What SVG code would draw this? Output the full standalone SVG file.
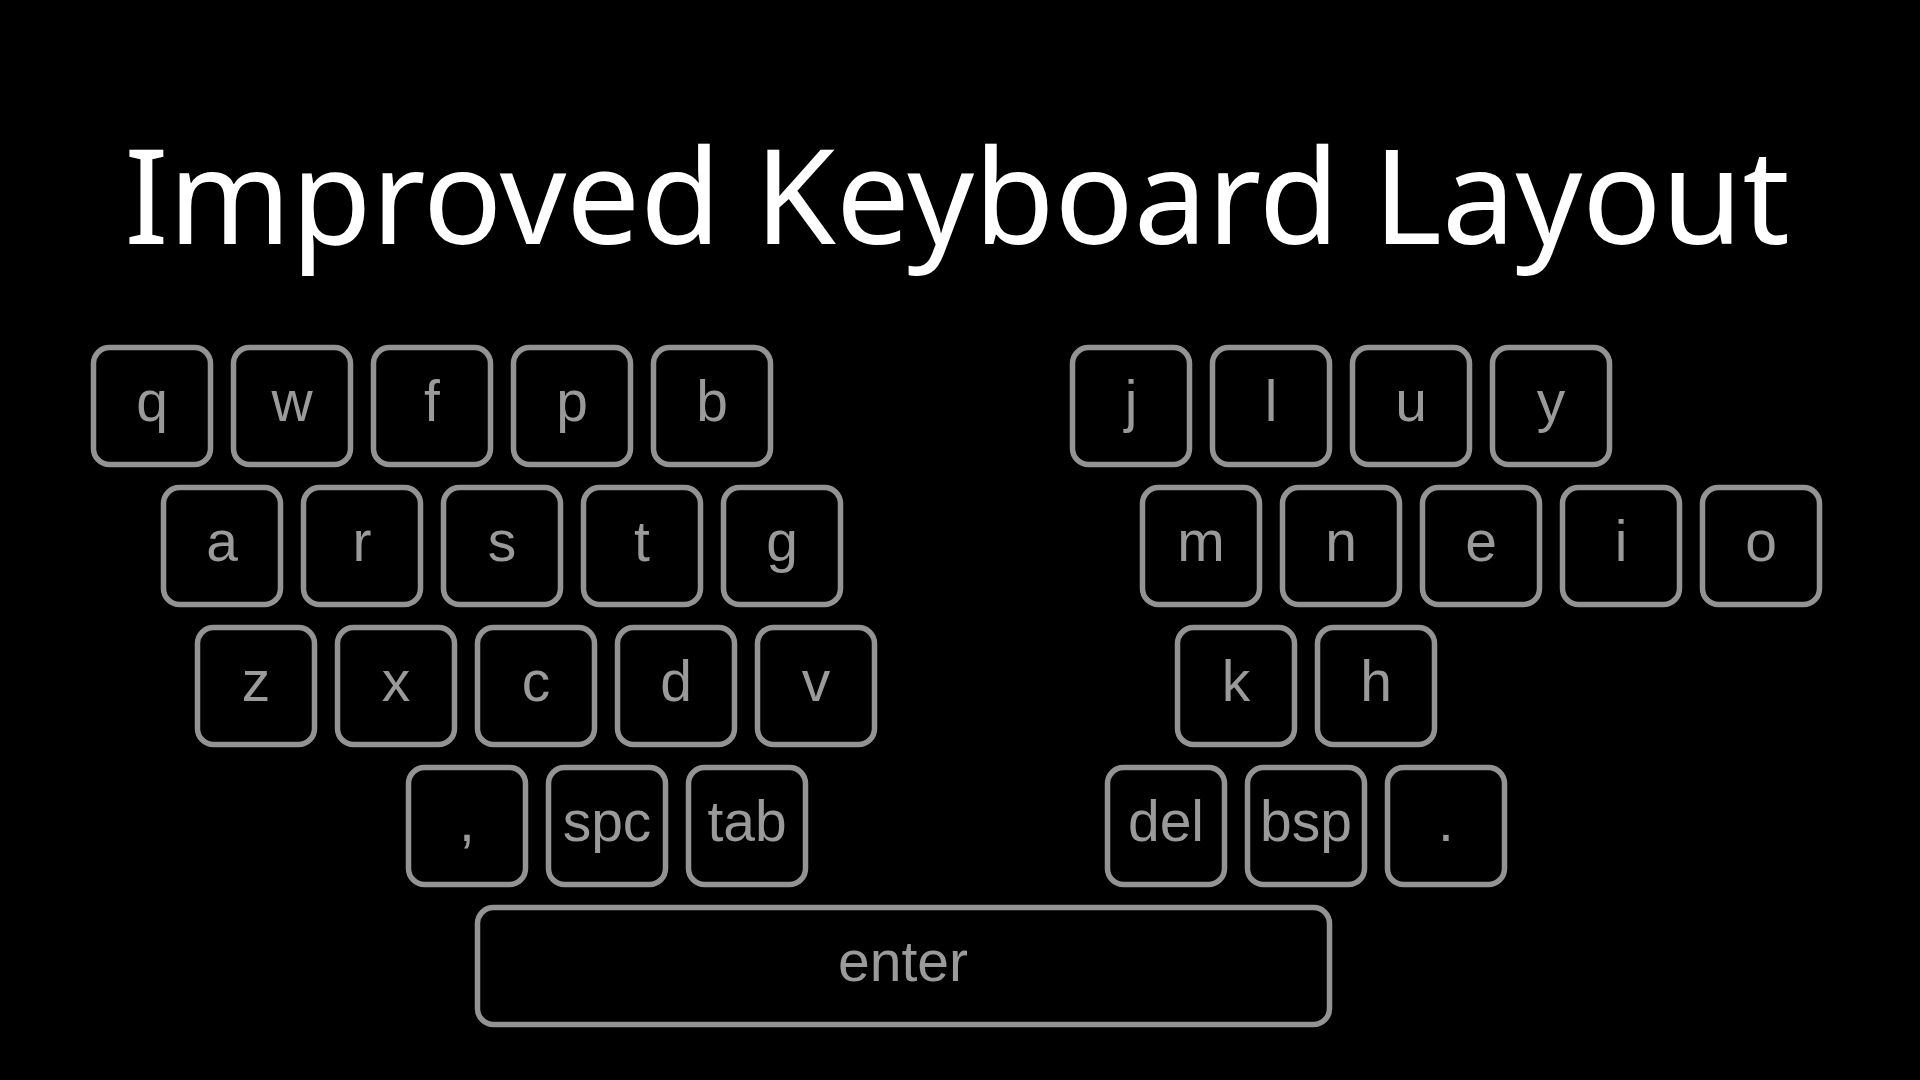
<svg xmlns="http://www.w3.org/2000/svg" width="1920" height="1080" viewBox="0 0 1920 1080">
<style>
.k rect{fill:#000;stroke:#939393;stroke-width:5.5}
.k text{fill:#9a9a9a;font-family:"Liberation Sans",Arial,sans-serif;font-size:57px;text-anchor:middle}
.t{fill:#fff;font-family:"Noto Sans","Open Sans",sans-serif;font-size:131px;text-anchor:middle}
</style>
<rect width="1920" height="1080" fill="#000"/>
<text class="t" x="957" y="244">Improved Keyboard Layout</text>
<g id="keys">
<g id="k-q" class="k"><rect x="93.5" y="347.5" width="117" height="117" rx="16"/><text x="152" y="421">q</text></g>
<g id="k-w" class="k"><rect x="233.5" y="347.5" width="117" height="117" rx="16"/><text x="292" y="421">w</text></g>
<g id="k-f" class="k"><rect x="373.5" y="347.5" width="117" height="117" rx="16"/><text x="432" y="421">f</text></g>
<g id="k-p" class="k"><rect x="513.5" y="347.5" width="117" height="117" rx="16"/><text x="572" y="421">p</text></g>
<g id="k-b" class="k"><rect x="653.5" y="347.5" width="117" height="117" rx="16"/><text x="712" y="421">b</text></g>
<g id="k-a" class="k"><rect x="163.5" y="487.5" width="117" height="117" rx="16"/><text x="222" y="561">a</text></g>
<g id="k-r" class="k"><rect x="303.5" y="487.5" width="117" height="117" rx="16"/><text x="362" y="561">r</text></g>
<g id="k-s" class="k"><rect x="443.5" y="487.5" width="117" height="117" rx="16"/><text x="502" y="561">s</text></g>
<g id="k-t" class="k"><rect x="583.5" y="487.5" width="117" height="117" rx="16"/><text x="642" y="561">t</text></g>
<g id="k-g" class="k"><rect x="723.5" y="487.5" width="117" height="117" rx="16"/><text x="782" y="561">g</text></g>
<g id="k-z" class="k"><rect x="197.5" y="627.5" width="117" height="117" rx="16"/><text x="256" y="701">z</text></g>
<g id="k-x" class="k"><rect x="337.5" y="627.5" width="117" height="117" rx="16"/><text x="396" y="701">x</text></g>
<g id="k-c" class="k"><rect x="477.5" y="627.5" width="117" height="117" rx="16"/><text x="536" y="701">c</text></g>
<g id="k-d" class="k"><rect x="617.5" y="627.5" width="117" height="117" rx="16"/><text x="676" y="701">d</text></g>
<g id="k-v" class="k"><rect x="757.5" y="627.5" width="117" height="117" rx="16"/><text x="816" y="701">v</text></g>
<g id="k-comma" class="k"><rect x="408.5" y="767.5" width="117" height="117" rx="16"/><text x="467" y="841">,</text></g>
<g id="k-spc" class="k"><rect x="548.5" y="767.5" width="117" height="117" rx="16"/><text x="607" y="841">spc</text></g>
<g id="k-tab" class="k"><rect x="688.5" y="767.5" width="117" height="117" rx="16"/><text x="747" y="841">tab</text></g>
<g id="k-j" class="k"><rect x="1072.5" y="347.5" width="117" height="117" rx="16"/><text x="1131" y="421">j</text></g>
<g id="k-l" class="k"><rect x="1212.5" y="347.5" width="117" height="117" rx="16"/><text x="1271" y="421">l</text></g>
<g id="k-u" class="k"><rect x="1352.5" y="347.5" width="117" height="117" rx="16"/><text x="1411" y="421">u</text></g>
<g id="k-y" class="k"><rect x="1492.5" y="347.5" width="117" height="117" rx="16"/><text x="1551" y="421">y</text></g>
<g id="k-m" class="k"><rect x="1142.5" y="487.5" width="117" height="117" rx="16"/><text x="1201" y="561">m</text></g>
<g id="k-n" class="k"><rect x="1282.5" y="487.5" width="117" height="117" rx="16"/><text x="1341" y="561">n</text></g>
<g id="k-e" class="k"><rect x="1422.5" y="487.5" width="117" height="117" rx="16"/><text x="1481" y="561">e</text></g>
<g id="k-i" class="k"><rect x="1562.5" y="487.5" width="117" height="117" rx="16"/><text x="1621" y="561">i</text></g>
<g id="k-o" class="k"><rect x="1702.5" y="487.5" width="117" height="117" rx="16"/><text x="1761" y="561">o</text></g>
<g id="k-k" class="k"><rect x="1177.5" y="627.5" width="117" height="117" rx="16"/><text x="1236" y="701">k</text></g>
<g id="k-h" class="k"><rect x="1317.5" y="627.5" width="117" height="117" rx="16"/><text x="1376" y="701">h</text></g>
<g id="k-del" class="k"><rect x="1107.5" y="767.5" width="117" height="117" rx="16"/><text x="1166" y="841">del</text></g>
<g id="k-bsp" class="k"><rect x="1247.5" y="767.5" width="117" height="117" rx="16"/><text x="1306" y="841">bsp</text></g>
<g id="k-dot" class="k"><rect x="1387.5" y="767.5" width="117" height="117" rx="16"/><text x="1446" y="841">.</text></g>
<g id="k-enter" class="k"><rect x="477.5" y="907.5" width="852" height="117" rx="16"/><text x="903" y="981">enter</text></g>
</g>
<g id="connectors"/>
</svg>
